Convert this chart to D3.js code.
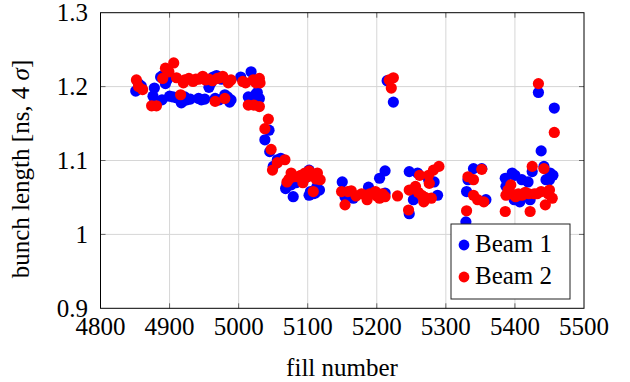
<!DOCTYPE html>
<html>
<head>
<meta charset="utf-8">
<script src="https://cdn.jsdelivr.net/npm/d3@7"></script>
<style>
  html, body { margin: 0; padding: 0; background: #fff; }
  svg { display: block; }
  text { font-family: "Liberation Serif", "DejaVu Serif", serif; fill: #000; }
</style>
</head>
<body>
<script>
const xTicks = [4800, 4900, 5000, 5100, 5200, 5300, 5400, 5500];
const yTicks = [0.9, 1.0, 1.1, 1.2, 1.3];
const yTickLabels = ["0.9", "1", "1.1", "1.2", "1.3"];
const seriesNames = ["Beam 1", "Beam 2"];
const seriesColors = ["#0000ff", "#ff0000"];

const beam1Fill = [4851,4855,4859,4876,4878,4889,4887,4894,4905,4913,4919,4925,4942,4951,4957,4963,4966,4980,4989,5003,5018,5014,5027,5030,
  4900,4910,4917,4922,4930,4946,4960,4972,4984,4987,5020,5025,4890,4897,4968,4975,
  5038,5044,5045,5050,5056,5061,5068,5076,5079,5088,5102,5102,5111,5117,5070,5083,5095,5104,5108,5113,
  5150,5154,5166,5188,5204,5212,5212,5215,5224,
  5247,5247,5253,5259,5283,5288,5258,5275,5329,5330,5332,5340,5352,5358,5386,5387,5396,5399,5407,5410,5419,5422,5425,5404,5413,5400,
  5434,5438,5442,5445,5451,5455,5457,5450];
const beam1Len = [1.194,1.204,1.201,1.187,1.198,1.182,1.213,1.204,1.186,1.184,1.180,1.182,1.184,1.183,1.199,1.213,1.184,1.189,1.182,1.213,1.220,1.186,1.192,1.184,
  1.187,1.185,1.178,1.186,1.183,1.182,1.205,1.182,1.186,1.179,1.185,1.190,1.215,1.210,1.215,1.210,
  1.128,1.141,1.112,1.092,1.101,1.103,1.062,1.067,1.051,1.074,1.087,1.053,1.056,1.060,1.068,1.070,1.075,1.058,1.055,1.064,
  1.071,1.051,1.049,1.064,1.076,1.086,1.056,1.208,1.179,
  1.085,1.028,1.047,1.083,1.071,1.053,1.055,1.074,1.017,1.058,1.074,1.089,1.089,1.047,1.076,1.065,1.083,1.047,1.044,1.074,1.071,1.047,1.085,1.050,1.055,1.080,
  1.192,1.113,1.092,1.074,1.083,1.080,1.171,1.074];

const beam2Fill = [4852,4855,4861,4874,4881,4890,4894,4906,4899,4910,4916,4922,4928,4934,4942,4948,4957,4966,4969,4977,4980,4989,5006,5014,5021,5022,5030,5030,5031,
  4920,4938,4952,4962,4973,4985,5010,5025,
  5038,5043,5047,5049,5056,5067,5070,5076,5085,5096,5102,5108,5114,5118,5073,5080,5090,5093,5100,5105,5112,
  5149,5154,5163,5178,5186,5198,5204,5212,5158,5170,5190,5200,5208,5218,5221,5224,5230,
  5246,5247,5256,5262,5265,5268,5275,5276,5279,5282,5290,5260,5270,5330,5332,5340,5340,5346,5352,5355,
  5386,5387,5394,5401,5410,5422,5425,5428,5390,5395,5405,5415,5420,5432,5438,5450,5434,5442,5444,5448,5454,5457];
const beam2Len = [1.209,1.200,1.196,1.174,1.174,1.211,1.225,1.232,1.220,1.212,1.189,1.209,1.211,1.207,1.210,1.214,1.210,1.180,1.211,1.214,1.184,1.209,1.207,1.175,1.209,1.175,1.173,1.211,1.205,
  1.205,1.210,1.209,1.208,1.212,1.205,1.205,1.205,
  1.143,1.156,1.115,1.087,1.097,1.101,1.071,1.083,1.078,1.083,1.086,1.058,1.083,1.074,1.075,1.078,1.080,1.070,1.078,1.082,1.075,
  1.058,1.040,1.059,1.055,1.047,1.058,1.049,1.051,1.058,1.052,1.055,1.052,1.055,1.209,1.198,1.212,1.052,
  1.033,1.060,1.065,1.080,1.053,1.044,1.080,1.069,1.049,1.087,1.092,1.057,1.050,1.032,1.078,1.074,1.053,1.047,1.088,1.044,
  1.031,1.053,1.067,1.051,1.053,1.031,1.092,1.055,1.060,1.055,1.055,1.057,1.055,1.055,1.058,1.060,1.204,1.089,1.040,1.055,1.049,1.138];

const W = 630, H = 382;
const pLeft = 100.5, pRight = 584, pTop = 12.7, pBottom = 308.3;

const svg = d3.select("body").append("svg").attr("width", W).attr("height", H);

const x = d3.scaleLinear().domain([4800, 5500]).range([pLeft, pRight]);
const y = d3.scaleLinear().domain([0.9, 1.3]).range([pBottom, pTop]);

// grid
const grid = svg.append("g").attr("stroke", "#d6d6d6").attr("stroke-width", 1);
xTicks.slice(1, -1).forEach(t => grid.append("line").attr("x1", x(t)).attr("x2", x(t)).attr("y1", pTop).attr("y2", pBottom));
yTicks.slice(1, -1).forEach(t => grid.append("line").attr("x1", pLeft).attr("x2", pRight).attr("y1", y(t)).attr("y2", y(t)));

// inward tick marks
const tk = svg.append("g").attr("stroke", "#666").attr("stroke-width", 1);
xTicks.slice(1, -1).forEach(t => {
  tk.append("line").attr("x1", x(t)).attr("x2", x(t)).attr("y1", pBottom).attr("y2", pBottom - 5);
  tk.append("line").attr("x1", x(t)).attr("x2", x(t)).attr("y1", pTop).attr("y2", pTop + 5);
});
yTicks.slice(1, -1).forEach(t => {
  tk.append("line").attr("x1", pLeft).attr("x2", pLeft + 5).attr("y1", y(t)).attr("y2", y(t));
  tk.append("line").attr("x1", pRight).attr("x2", pRight - 5).attr("y1", y(t)).attr("y2", y(t));
});

// points
const plot = svg.append("g");
const series = [
  { fill: beam1Fill, len: beam1Len, color: seriesColors[0] },
  { fill: beam2Fill, len: beam2Len, color: seriesColors[1] }
];
series.forEach(s => {
  plot.append("g").selectAll("circle")
    .data(s.fill.map((f, i) => [f, s.len[i]]))
    .join("circle")
    .attr("cx", d => x(d[0]))
    .attr("cy", d => y(d[1]))
    .attr("r", 5.6)
    .attr("fill", s.color);
});

// frame
svg.append("rect").attr("x", pLeft).attr("y", pTop).attr("width", pRight - pLeft).attr("height", pBottom - pTop)
  .attr("fill", "none").attr("stroke", "#000").attr("stroke-width", 1);

// tick labels
const fs = 25;
xTicks.forEach(t => {
  svg.append("text").attr("x", x(t)).attr("y", 335).attr("text-anchor", "middle")
    .attr("font-size", fs).text(String(t));
});
yTicks.forEach((t, i) => {
  svg.append("text").attr("x", 88).attr("y", y(t) + 8.3).attr("text-anchor", "end")
    .attr("font-size", fs).text(yTickLabels[i]);
});

// axis labels
svg.append("text").attr("x", 342).attr("y", 376).attr("text-anchor", "middle")
  .attr("font-size", fs).text("fill number");

const yl = svg.append("text").attr("transform", "translate(29,169) rotate(-90)")
  .attr("text-anchor", "middle").attr("font-size", fs);
yl.append("tspan").text("bunch length [ns, 4 ");
yl.append("tspan").attr("font-style", "italic").text("σ");
yl.append("tspan").text("]");

// legend
const lg = svg.append("g");
lg.append("rect").attr("x", 451).attr("y", 224).attr("width", 119).attr("height", 75)
  .attr("fill", "#fff").attr("stroke", "#222").attr("stroke-width", 1);
seriesNames.forEach((n, i) => {
  const cy = 245 + i * 32;
  lg.append("circle").attr("cx", 464).attr("cy", cy).attr("r", 5.4).attr("fill", seriesColors[i]);
  lg.append("text").attr("x", 475).attr("y", cy + 7).attr("font-size", fs).text(n);
});
</script>
</body>
</html>
